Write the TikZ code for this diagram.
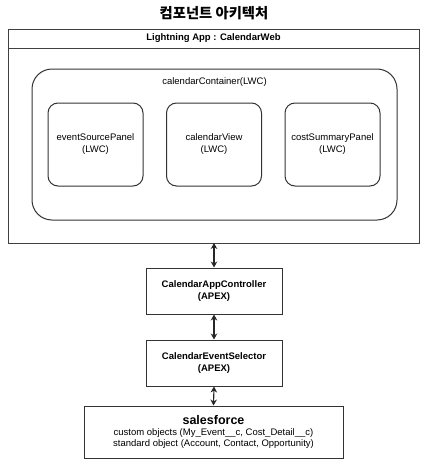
\documentclass[tikz,border=0pt]{standalone}
\usepackage{fontspec}
\setmainfont{Liberation Sans}
\newfontfamily\krfont{Noto Sans CJK KR}
\usetikzlibrary{arrows.meta}
\begin{document}
\begin{tikzpicture}[x=1pt,y=-1pt,
  line width=1pt,
  frame/.style={draw=black!75, line width=1pt, inner sep=0pt},
  rbox/.style={draw=black!80, rounded corners=10pt, inner sep=0pt, minimum width=95pt, minimum height=83pt, align=center, font=\fontsize{9.5}{12}\selectfont},
  sbox/.style={draw=black!80, inner sep=0pt, minimum width=136pt, minimum height=46pt, align=center, font=\fontsize{9.5}{12}\selectfont\bfseries},
  link/.style={draw=black!85, line width=1.1pt, {Stealth[length=6pt,width=6.5pt]}-{Stealth[length=6pt,width=6.5pt]}}
]
\useasboundingbox (0,0) rectangle (428,471);
\fill[white] (0,0) rectangle (428,471);
% title
\node (title) at (214,13) {\krfont\bfseries\fontsize{14.3}{17}\selectfont 컴포넌트 아키텍처};
% outer app frame
\node[frame, minimum width=411pt, minimum height=214pt] (app) at (213.5,136) {};
\coordinate (hl) at (8,48);
\coordinate (hr) at (419,48);
\draw[draw=black!75] (hl) -- (hr);
\node[font=\fontsize{9.5}{12}\selectfont\bfseries] (apptitle) at (213.5,38.5) {Lightning App : CalendarWeb};
% container
\node[draw=black!80, rounded corners=20pt, inner sep=0pt, minimum width=365pt, minimum height=151pt] (cont) at (214.5,144.5) {};
\node[font=\fontsize{9.5}{12}\selectfont] (contlabel) at (214.5,82) {calendarContainer(LWC)};
% inner LWC boxes
\node[rbox] (esp) at (95.5,144.5) {eventSourcePanel\\(LWC)};
\node[rbox] (cv) at (214,144.5) {calendarView\\(LWC)};
\node[rbox] (csp) at (332.5,144.5) {costSummaryPanel\\(LWC)};
% apex boxes
\node[sbox] (ctrl) at (214,291) {CalendarAppController\\(APEX)};
\node[sbox] (sel) at (214,363) {CalendarEventSelector\\(APEX)};
% salesforce
\node[draw=black!80, inner sep=0pt, minimum width=259pt, minimum height=52pt, align=center] (sf) at (213.5,432)
  {{\fontsize{12.5}{14}\selectfont\bfseries salesforce}\\[-1pt]
   {\fontsize{9.5}{12}\selectfont custom objects (My\_Event\_\_c, Cost\_Detail\_\_c)}\\[-1.5pt]
   {\fontsize{9.5}{12}\selectfont standard object (Account, Contact, Opportunity)}};
% connectors
\coordinate (appb) at (214,243);
\draw[link] (appb) -- (ctrl.north);
\draw[link] (ctrl.south) -- (sel.north);
\draw[link] (sel.south) -- (sf.north);
\end{tikzpicture}
\end{document}
